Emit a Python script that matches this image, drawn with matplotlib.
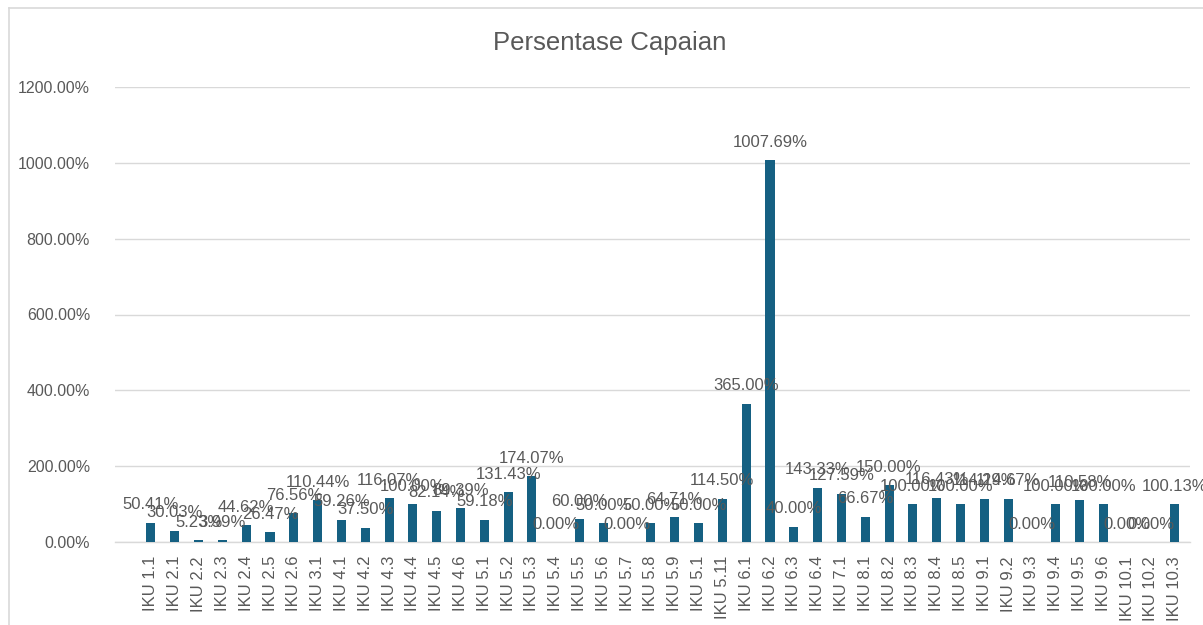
import matplotlib
matplotlib.use("Agg")
import matplotlib.pyplot as plt
from matplotlib.lines import Line2D

categories = ["IKU 1.1", "IKU 2.1", "IKU 2.2", "IKU 2.3", "IKU 2.4", "IKU 2.5", "IKU 2.6",
              "IKU 3.1", "IKU 4.1", "IKU 4.2", "IKU 4.3", "IKU 4.4", "IKU 4.5", "IKU 4.6",
              "IKU 5.1", "IKU 5.2", "IKU 5.3", "IKU 5.4", "IKU 5.5", "IKU 5.6", "IKU 5.7",
              "IKU 5.8", "IKU 5.9", "IKU 5.1", "IKU 5.11", "IKU 6.1", "IKU 6.2", "IKU 6.3",
              "IKU 6.4", "IKU 7.1", "IKU 8.1", "IKU 8.2", "IKU 8.3", "IKU 8.4", "IKU 8.5",
              "IKU 9.1", "IKU 9.2", "IKU 9.3", "IKU 9.4", "IKU 9.5", "IKU 9.6", "IKU 10.1",
              "IKU 10.2", "IKU 10.3"]
values = [50.41, 30.03, 5.23, 3.99, 44.62, 26.47, 76.56,
          110.44, 59.26, 37.50, 116.07, 100.00, 82.14, 89.39,
          59.18, 131.43, 174.07, 0.00, 60.00, 50.00, 0.00,
          50.00, 64.71, 50.00, 114.50, 365.00, 1007.69, 40.00,
          143.33, 127.59, 66.67, 150.00, 100.00, 116.43, 100.00,
          114.29, 114.67, 0.00, 100.00, 110.58, 100.00, 0.00,
          0.00, 100.13]
yticks = [0, 200, 400, 600, 800, 1000, 1200]

plt.rcParams['font.family'] = ['Liberation Sans', 'DejaVu Sans']
gray = '#595959'
bar_color = '#156082'

fig = plt.figure(figsize=(12.03, 6.25), dpi=100)
ax = fig.add_axes([0.0956, 0.1328, 0.8934, 0.728])

x = list(range(len(categories)))
bars = ax.bar(x, values, width=0.38, color=bar_color, zorder=3)

for xi, v in zip(x, values):
    ax.annotate(f"{v:.2f}%", (xi, v), xytext=(0, 7.5), textcoords='offset points',
                ha='center', va='bottom', fontsize=12, color=gray, zorder=4,
                annotation_clip=False)

ax.set_xlim(-1.51, len(categories) - 0.37)
ax.set_ylim(0, 1200)
ax.set_yticks(yticks)
ax.set_yticklabels([f"{t:.2f}%" for t in yticks], fontsize=11.5, color=gray)
ax.set_xticks(x)
ax.set_xticklabels(categories, rotation=90, fontsize=12, color=gray)
ax.tick_params(axis='both', length=0)
ax.tick_params(axis='y', pad=18)
ax.tick_params(axis='x', pad=10)
ax.grid(axis='y', color='#D9D9D9', linewidth=1, zorder=0)
for s in ['top', 'right', 'left']:
    ax.spines[s].set_visible(False)
ax.spines['bottom'].set_color('#D9D9D9')
ax.spines['bottom'].set_linewidth(1)

fig.text(0.5065, 0.931, "Persentase Capaian", ha='center', va='center', fontsize=18.5, color=gray)

# chart border (left and top edges visible)
fig.add_artist(Line2D([0.0075, 0.0075], [0, 0.987], transform=fig.transFigure, color='#D9D9D9', linewidth=1.2))
fig.add_artist(Line2D([0.0075, 1.0], [0.987, 0.987], transform=fig.transFigure, color='#D9D9D9', linewidth=1.2))

fig.savefig("out.png", dpi=100)
